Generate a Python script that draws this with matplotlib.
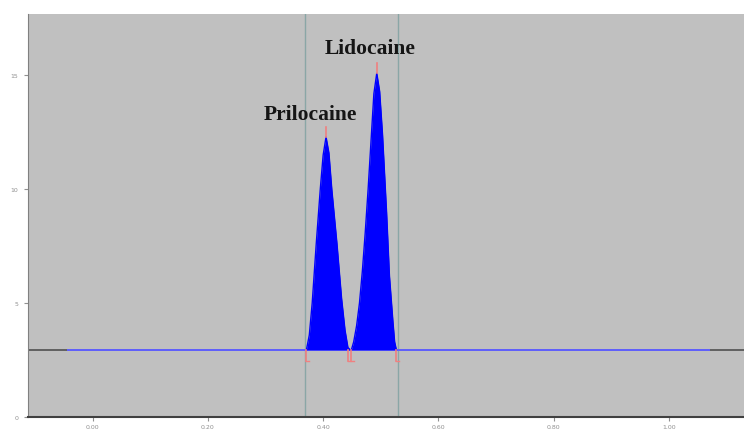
import matplotlib.pyplot as plt

# densitograma HPTLC - prilocaina / lidocaina
baseline = 2.95
x_start, x_end = -0.042, 1.069
track_lines = [0.369, 0.530]

prilo_rf = [0.371, 0.376, 0.381, 0.388, 0.395, 0.400, 0.405, 0.410, 0.415, 0.424, 0.432, 0.438, 0.443, 0.447]
prilo_au = [2.95, 3.6, 5.0, 7.6, 10.0, 11.5, 12.3, 11.6, 10.0, 7.6, 5.2, 3.8, 3.05, 2.95]

lido_rf = [0.449, 0.453, 0.458, 0.463, 0.468, 0.473, 0.478, 0.483, 0.488, 0.493, 0.498, 0.503, 0.510, 0.515, 0.521, 0.524, 0.527]
lido_au = [2.95, 3.3, 4.0, 5.0, 6.4, 8.1, 10.0, 12.1, 14.2, 15.1, 14.3, 12.4, 9.0, 6.2, 4.2, 3.3, 2.95]

peak_names = ["Prilocaine", "Lidocaine"]
peak_rf = [0.405, 0.493]
peak_au = [12.3, 15.1]
label_pos = [(0.377, 13.3), (0.481, 16.2)]
bounds = [0.371, 0.443, 0.449, 0.527]

xticks = [0.0, 0.2, 0.4, 0.6, 0.8, 1.0]
xticklabels = ["0.00", "0.20", "0.40", "0.60", "0.80", "1.00"]
yticks = [0, 5, 10, 15]

fig = plt.figure(figsize=(7.44, 4.31), dpi=100)
ax = fig.add_axes([0.0376, 0.0302, 0.9624, 0.935])
ax.set_facecolor('#c0c0c0')
ax.set_xlim(-0.112, 1.130)
ax.set_ylim(0, 17.7)

# linha de base
ax.axhline(baseline, color='#505050', lw=1.2, zorder=1)
ax.plot([x_start, x_end], [baseline, baseline], color='#6060ff', lw=1.4, zorder=2)

for xv in track_lines:
    ax.axvline(xv, color='#8aa6a6', lw=1.0, zorder=1)

# picos
ax.fill_between(prilo_rf, baseline, prilo_au, color='#0000ff', lw=0, zorder=3)
ax.fill_between(lido_rf, baseline, lido_au, color='#0000ff', lw=0, zorder=3)
ax.plot(prilo_rf, prilo_au, color='#0000ff', lw=1, zorder=3)
ax.plot(lido_rf, lido_au, color='#0000ff', lw=1, zorder=3)

# marcadores vermelhos
for r, h in zip(peak_rf, peak_au):
    ax.plot([r, r], [h, h + 0.45], color='#f08080', lw=1.2, zorder=4)
for b in bounds:
    ax.plot([b, b], [baseline, baseline - 0.5], color='#f08080', lw=1.2, zorder=4)
    ax.plot([b, b + 0.004], [baseline - 0.5, baseline - 0.5], color='#f08080', lw=1.0, zorder=4)

for name, (lx, ly) in zip(peak_names, label_pos):
    ax.text(lx, ly, name, ha='center', va='center', fontsize=15.5, fontweight='bold',
            family='Liberation Serif', color='#151515', zorder=5)

ax.set_xticks(xticks)
ax.set_xticklabels(xticklabels)
ax.set_yticks(yticks)
ax.tick_params(axis='both', labelsize=4.5, colors='#909090', length=3, width=0.8, pad=2)
ax.tick_params(axis='y', pad=4)

ax.spines['top'].set_visible(False)
ax.spines['right'].set_visible(False)
ax.spines['left'].set_color('#808080')
ax.spines['bottom'].set_color('#404040')
ax.spines['bottom'].set_linewidth(1.5)

fig.savefig('out.png', dpi=100)
